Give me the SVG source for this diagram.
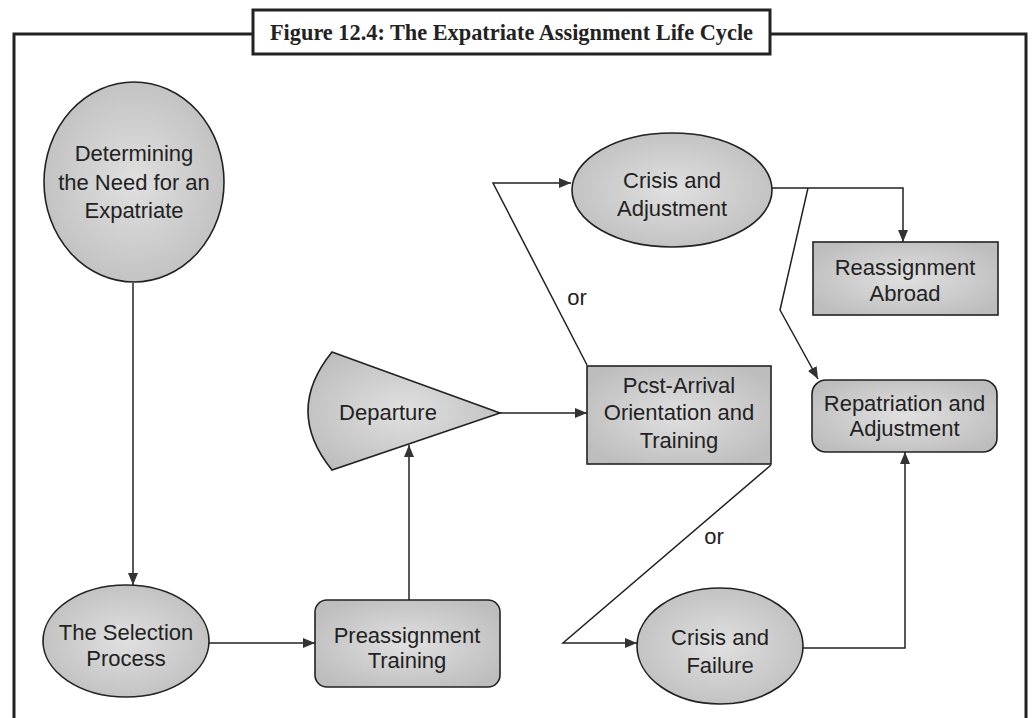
<svg xmlns="http://www.w3.org/2000/svg" width="1034" height="718" viewBox="0 0 1034 718">
<style>
.frame{fill:none;stroke:#222;stroke-width:3}
.node{fill:url(#shade);stroke:#222;stroke-width:1.6}
.lbl{font-family:"Liberation Sans",Arial,sans-serif;font-size:22px;fill:#222;text-anchor:middle}
.con{fill:none;stroke:#222;stroke-width:1.5}
.arr{marker-end:url(#ah)}
</style>
<defs>
<radialGradient id="shade" cx="50%" cy="50%" r="60%">
<stop offset="0" stop-color="#e0e0e0"/>
<stop offset="1" stop-color="#bdbdbd"/>
</radialGradient>
<marker id="ah" viewBox="0 0 12 10" refX="12" refY="5" markerWidth="12" markerHeight="10" markerUnits="userSpaceOnUse" orient="auto">
<path d="M0,0 L12,5 L0,10 Z" fill="#333"/>
</marker>
</defs>
<rect width="1034" height="718" fill="#fff"/>
<g id="frame">
<path class="frame" d="M253,34 H14 V718 M770,34 H1026 V718"/>
<rect x="253" y="10" width="517" height="44" fill="#fff" stroke="#222" stroke-width="3"/>
<text x="511.5" y="40" font-family="'Liberation Serif','Times New Roman',serif" font-weight="bold" font-size="24" fill="#222" text-anchor="middle" textLength="483" lengthAdjust="spacingAndGlyphs">Figure 12.4: The Expatriate Assignment Life Cycle</text>
</g>
<g id="connectors">
<line class="con arr" x1="133" y1="283" x2="133" y2="585"/>
<line class="con arr" x1="208" y1="643" x2="315" y2="643"/>
<line class="con arr" x1="409" y1="600" x2="409" y2="445"/>
<line class="con arr" x1="500" y1="413" x2="587" y2="413"/>
<polyline class="con arr" points="587,365 493,183 571,183"/>
<text class="lbl" x="577" y="305">or</text>
<polyline class="con arr" points="772,188 903,188 903,242"/>
<polyline class="con arr" points="808,188 780,310 818,379"/>
<polyline class="con arr" points="771,465 563,643 637,643"/>
<text class="lbl" x="714" y="544">or</text>
<polyline class="con arr" points="802,648 905,648 905,452"/>
</g>
<g id="determining">
<ellipse class="node" cx="134" cy="182" rx="90" ry="100"/>
<text class="lbl" x="134" y="161">Determining</text>
<text class="lbl" x="134" y="190">the Need for an</text>
<text class="lbl" x="134" y="218">Expatriate</text>
</g>
<g id="selection">
<ellipse class="node" cx="126" cy="641" rx="83" ry="56"/>
<text class="lbl" x="126" y="640">The Selection</text>
<text class="lbl" x="126" y="666">Process</text>
</g>
<g id="preassignment">
<rect class="node" x="315" y="600" width="185" height="87" rx="12"/>
<text class="lbl" x="407" y="643">Preassignment</text>
<text class="lbl" x="407" y="668">Training</text>
</g>
<g id="departure">
<path class="node" d="M332,352 L500,413 L332,470 Q284,411 332,352 Z"/>
<text class="lbl" x="388" y="420">Departure</text>
</g>
<g id="postarrival">
<rect class="node" x="587" y="366" width="184" height="98"/>
<text class="lbl" x="679" y="393">Pcst-Arrival</text>
<text class="lbl" x="679" y="420">Orientation and</text>
<text class="lbl" x="679" y="448">Training</text>
</g>
<g id="crisis-adjustment">
<ellipse class="node" cx="672" cy="190" rx="100" ry="57"/>
<text class="lbl" x="672" y="188">Crisis and</text>
<text class="lbl" x="672" y="216">Adjustment</text>
</g>
<g id="reassignment">
<rect class="node" x="813" y="242" width="185" height="73"/>
<text class="lbl" x="905" y="275">Reassignment</text>
<text class="lbl" x="905" y="301">Abroad</text>
</g>
<g id="repatriation">
<rect class="node" x="812" y="380" width="185" height="72" rx="14"/>
<text class="lbl" x="904.5" y="411">Repatriation and</text>
<text class="lbl" x="904.5" y="436">Adjustment</text>
</g>
<g id="crisis-failure">
<ellipse class="node" cx="720" cy="646" rx="83" ry="58"/>
<text class="lbl" x="720" y="645">Crisis and</text>
<text class="lbl" x="720" y="673">Failure</text>
</g>
</svg>
